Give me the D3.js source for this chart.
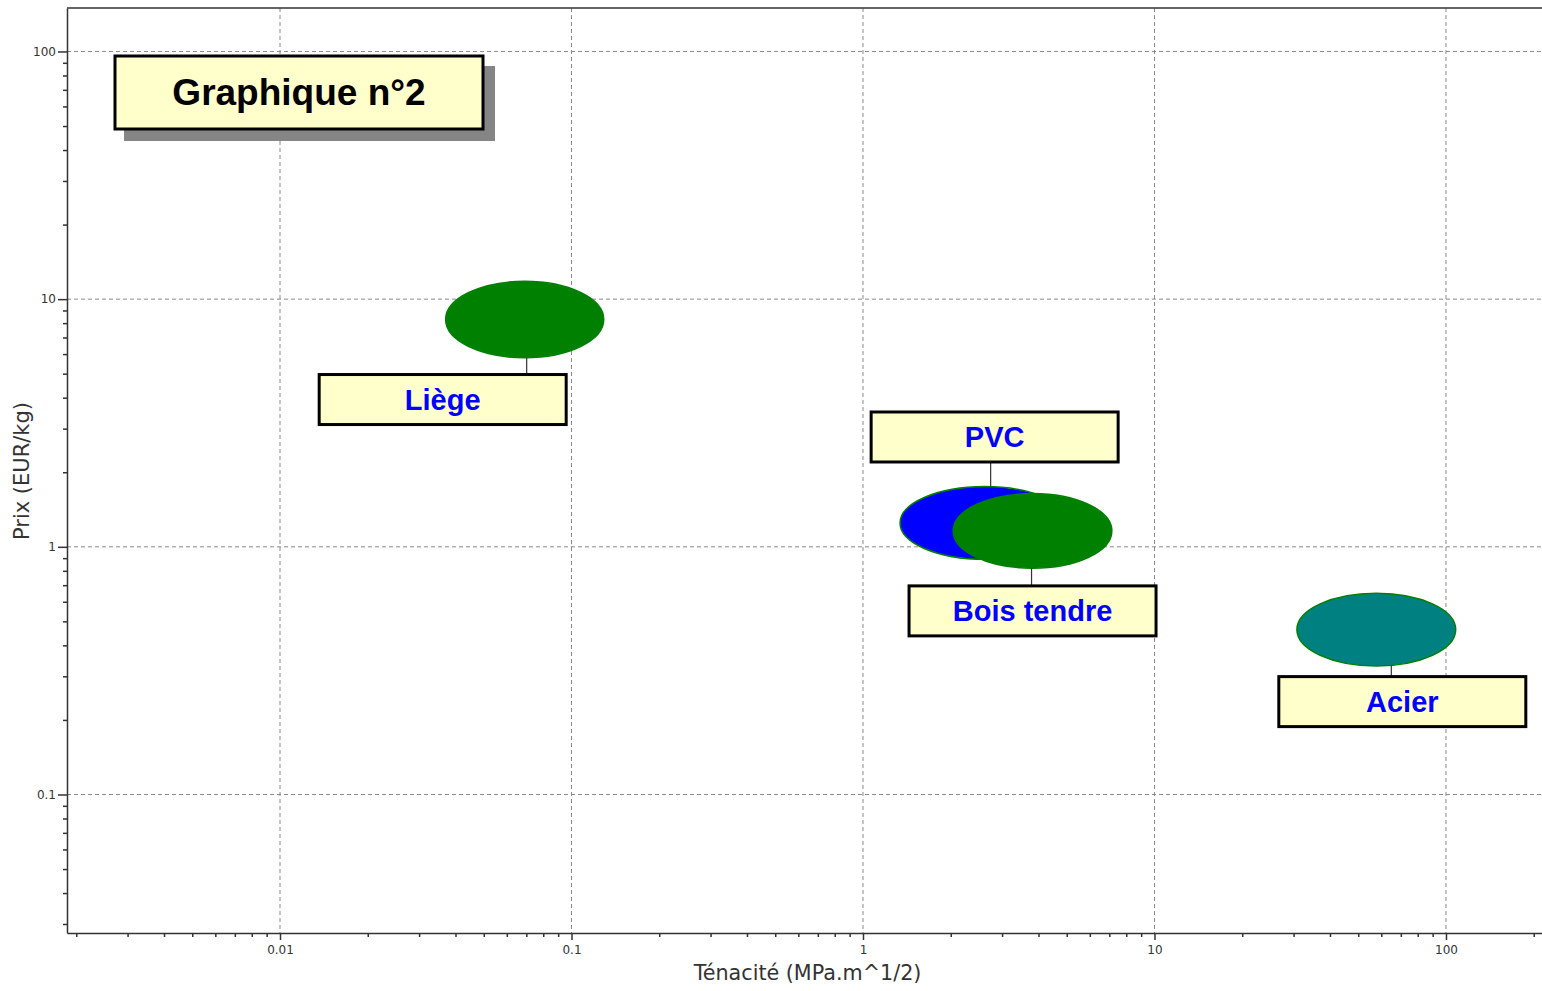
<!doctype html>
<html>
  <head>
    <meta charset="utf-8">
    <title>Graphique n°2</title>
    <style>
      body { margin: 0; background: #fff; }
      svg { display: block; }
      .tick text { font-family: "DejaVu Sans", Verdana, sans-serif; font-size: 12px; fill: #333; }
      .tick line, .domain { stroke: #333; stroke-width: 1.5; }
    </style>
    <script src="https://cdnjs.cloudflare.com/ajax/libs/d3/7.8.5/d3.min.js"></script>
  </head>
  <body>
    <div id="chart"></div>
    <script>
      // materials: toughness (MPa.m^1/2) and price (EUR/kg) ranges
      const materials = ["PVC", "Bois tendre", "Liège", "Acier"];
      const toughMin = [1.34, 2.04, 0.037, 30.8];
      const toughMax = [5.1, 7.14, 0.129, 108];
      const priceMin = [0.89, 0.82, 5.8, 0.33];
      const priceMax = [1.75, 1.64, 11.8, 0.65];

      const xTicks = [0.01, 0.1, 1, 10, 100];
      const xTickLabels = ["0.01", "0.1", "1", "10", "100"];
      const yTicks = [0.1, 1, 10, 100];
      const yTickLabels = ["0.1", "1", "10", "100"];

      const xTitle = "Ténacité (MPa.m^1/2)";
      const yTitle = "Prix (EUR/kg)";
      const chartTitle = "Graphique n°2";

      const width = 1542, height = 991;
      const mLeft = 67, mRight = 1542, mTop = 8, mBottom = 933;

      const fills = { "PVC": "#0000ff", "Bois tendre": "#008000", "Liège": "#008000", "Acier": "#008080" };
      // label box centre offset from ellipse centre, connector x offset
      const labelPos = {
        "Liège": [-82, 80, 2],
        "PVC": [10, -86, 6],
        "Bois tendre": [0, 80, -1],
        "Acier": [26, 72, 15]
      };

      const svg = d3.select("#chart").append("svg")
        .attr("width", width)
        .attr("height", height);

      const x = d3.scaleLog().domain([0.001859, 213.5]).range([mLeft, mRight]);
      const y = d3.scaleLog().domain([0.02759, 149.8]).range([mBottom, mTop]);

      const minor = (lo, hi) => {
        const out = [];
        for (let e = lo; e <= hi; e++) {
          for (let k = 2; k <= 9; k++) out.push(k * Math.pow(10, e));
        }
        return out;
      };
      const xMinor = minor(-3, 2).filter(v => v >= x.domain()[0] && v <= x.domain()[1]);
      const yMinor = minor(-2, 2).filter(v => v >= y.domain()[0] && v <= y.domain()[1]);

      // grid
      svg.append("g").selectAll("line").data(xTicks).join("line")
        .attr("x1", d => x(d)).attr("x2", d => x(d))
        .attr("y1", mTop).attr("y2", mBottom)
        .attr("stroke", "#8a8a8a").attr("stroke-dasharray", "4,3");
      svg.append("g").selectAll("line").data(yTicks).join("line")
        .attr("x1", mLeft).attr("x2", mRight)
        .attr("y1", d => y(d)).attr("y2", d => y(d))
        .attr("stroke", "#8a8a8a").attr("stroke-dasharray", "4,3");

      // frame top
      svg.append("line").attr("x1", mLeft).attr("x2", mRight).attr("y1", mTop).attr("y2", mTop)
        .attr("stroke", "#333").attr("stroke-width", 1.5);

      // axes
      svg.append("g").attr("transform", `translate(0,${mBottom})`)
        .call(d3.axisBottom(x).tickValues(xMinor).tickSize(4).tickFormat(""))
        .call(g => g.select(".domain").remove());
      svg.append("g").attr("transform", `translate(0,${mBottom})`)
        .call(d3.axisBottom(x).tickValues(xTicks).tickSize(7).tickSizeOuter(0).tickPadding(5)
          .tickFormat((d, i) => xTickLabels[i]));
      svg.append("g").attr("transform", `translate(${mLeft},0)`)
        .call(d3.axisLeft(y).tickValues(yMinor).tickSize(4).tickFormat(""))
        .call(g => g.select(".domain").remove());
      svg.append("g").attr("transform", `translate(${mLeft},0)`)
        .call(d3.axisLeft(y).tickValues(yTicks).tickSize(9).tickSizeOuter(0).tickPadding(2)
          .tickFormat((d, i) => yTickLabels[i]));

      svg.append("text")
        .attr("x", (mLeft + mRight) / 2 + 3).attr("y", 980)
        .attr("text-anchor", "middle")
        .style("font-family", "DejaVu Sans, Verdana, sans-serif").style("font-size", "20.7px").style("fill", "#333")
        .text(xTitle);
      svg.append("text")
        .attr("transform", "translate(29,471) rotate(-90)")
        .attr("text-anchor", "middle")
        .style("font-family", "DejaVu Sans, Verdana, sans-serif").style("font-size", "21px").style("fill", "#333")
        .text(yTitle);

      // bubbles
      const bubbles = materials.map((m, i) => {
        const x0 = x(toughMin[i]), x1 = x(toughMax[i]);
        const y0 = y(priceMax[i]), y1 = y(priceMin[i]);
        return { name: m, cx: (x0 + x1) / 2, cy: (y0 + y1) / 2, rx: (x1 - x0) / 2, ry: (y1 - y0) / 2 };
      });

      svg.append("g").selectAll("ellipse").data(bubbles).join("ellipse")
        .attr("cx", d => d.cx).attr("cy", d => d.cy)
        .attr("rx", d => d.rx).attr("ry", d => d.ry)
        .attr("fill", d => fills[d.name])
        .attr("stroke", "#008000").attr("stroke-width", 1.5);

      // labels
      const bw = 247, bh = 50;
      const lab = svg.append("g").selectAll("g").data(bubbles).join("g");
      lab.append("line")
        .attr("x1", d => d.cx + labelPos[d.name][2])
        .attr("x2", d => d.cx + labelPos[d.name][2])
        .attr("y1", d => {
          const dx = labelPos[d.name][2] / d.rx;
          const h = d.ry * Math.sqrt(1 - dx * dx);
          return labelPos[d.name][1] > 0 ? d.cy + h : d.cy - h;
        })
        .attr("y2", d => {
          const oy = labelPos[d.name][1];
          return oy > 0 ? d.cy + oy - bh / 2 : d.cy + oy + bh / 2;
        })
        .attr("stroke", "#333").attr("stroke-width", 1.2);
      lab.append("rect")
        .attr("x", d => d.cx + labelPos[d.name][0] - bw / 2)
        .attr("y", d => d.cy + labelPos[d.name][1] - bh / 2)
        .attr("width", bw).attr("height", bh)
        .attr("fill", "#ffffcc").attr("stroke", "#000").attr("stroke-width", 3);
      lab.append("text")
        .attr("x", d => d.cx + labelPos[d.name][0])
        .attr("y", d => d.cy + labelPos[d.name][1])
        .attr("dy", "0.36em")
        .attr("text-anchor", "middle")
        .style("font-family", "Liberation Sans, Arial, sans-serif").style("font-weight", "bold")
        .style("font-size", "29px").style("fill", "#0000ff")
        .text(d => d.name);

      // title box
      const t = svg.append("g");
      t.append("rect").attr("x", 124).attr("y", 66).attr("width", 371).attr("height", 75).attr("fill", "#858585");
      t.append("rect").attr("x", 115).attr("y", 56).attr("width", 368).attr("height", 73)
        .attr("fill", "#ffffcc").attr("stroke", "#000").attr("stroke-width", 3);
      t.append("text").attr("x", 299).attr("y", 92).attr("dy", "0.36em")
        .attr("text-anchor", "middle")
        .style("font-family", "Liberation Sans, Arial, sans-serif").style("font-weight", "bold")
        .style("font-size", "37px").style("fill", "#000")
        .text(chartTitle);
    </script>
  </body>
</html>
